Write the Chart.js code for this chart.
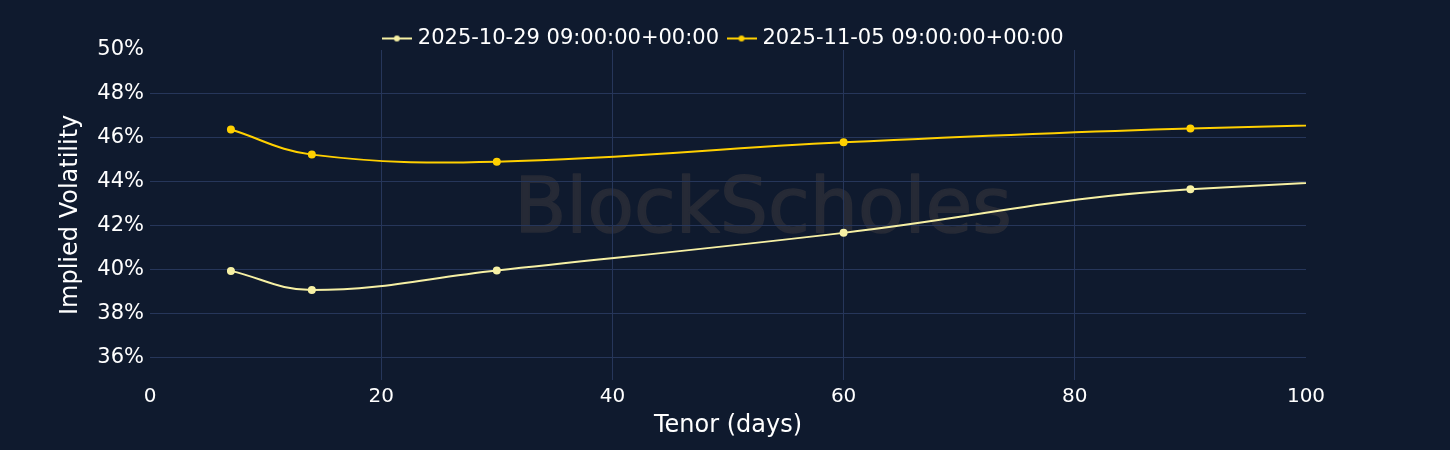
<!DOCTYPE html>
<html>
<head>
<meta charset="utf-8">
<script src="https://cdn.jsdelivr.net/npm/chart.js@4"></script>
<style>
  html, body { margin: 0; padding: 0; background: #0f1a2e; }
  #wrap { width: 1450px; height: 450px; }
</style>
</head>
<body>
<div id="wrap"><canvas id="grafico"></canvas></div>
<script>
// tenor em dias e vol implícita (%)
const tenores = [7, 14, 30, 60, 90, 180];
const serieA = [39.95, 39.08, 39.97, 41.68, 43.66, 45.4];
const serieB = [46.38, 45.24, 44.92, 45.8, 46.43, 47.6];
const nomeA = '2025-10-29 09:00:00+00:00';
const nomeB = '2025-11-05 09:00:00+00:00';
const ticksY = [36, 38, 40, 42, 44, 46, 48, 50];

const corA = '#f6f0a4';
const corB = '#ffd000';
const corGrade = '#26365a';
const fonte = 'DejaVu Sans';

function pontos(valores) {
    return tenores.map((t, i) => ({ x: t, y: valores[i] }));
}

// ícone da legenda: linha com ponto no meio
function iconeLegenda(cor) {
    const c = document.createElement('canvas');
    c.width = 30;
    c.height = 10;
    const g = c.getContext('2d');
    g.strokeStyle = cor;
    g.lineWidth = 2;
    g.beginPath();
    g.moveTo(0, 5);
    g.lineTo(30, 5);
    g.stroke();
    g.fillStyle = cor;
    g.beginPath();
    g.arc(15, 5, 3, 0, Math.PI * 2);
    g.fill();
    return c;
}

// marca d'água (desenhada antes da grade)
const marcaDagua = {
    id: 'marcaDagua',
    beforeDraw(chart) {
        const { ctx } = chart;
        ctx.save();
        ctx.font = '76px ' + fonte;
        ctx.fillStyle = '#262a36';
        ctx.strokeStyle = '#262a36';
        ctx.lineWidth = 1.5;
        ctx.lineJoin = 'round';
        ctx.textAlign = 'center';
        ctx.textBaseline = 'middle';
        ctx.fillText('BlockScholes', 763, 212);
        ctx.strokeText('BlockScholes', 763, 212);
        ctx.restore();
    }
};

new Chart(document.getElementById('grafico'), {
    type: 'line',
    data: {
        datasets: [
            {
                label: nomeA,
                data: pontos(serieA),
                borderColor: corA,
                backgroundColor: corA,
                borderWidth: 2,
                pointRadius: 3,
                pointHoverRadius: 3,
                pointStyle: 'circle',
                tension: 0.4,
                fill: false,
            },
            {
                label: nomeB,
                data: pontos(serieB),
                borderColor: corB,
                backgroundColor: corB,
                borderWidth: 2,
                pointRadius: 3,
                pointHoverRadius: 3,
                pointStyle: 'circle',
                tension: 0.4,
                fill: false,
            },
        ],
    },
    plugins: [marcaDagua],
    options: {
        responsive: true,
        maintainAspectRatio: false,
        animation: false,
        layout: { padding: { left: 0, right: 0, top: 16, bottom: 5 } },
        plugins: {
            legend: {
                display: true,
                maxHeight: 34,
                labels: {
                    color: '#ffffff',
                    font: { family: fonte, size: 21 },
                    usePointStyle: true,
                    padding: 12,
                    generateLabels: chart => chart.data.datasets.map((ds, i) => ({
                        text: ds.label,
                        fontColor: '#ffffff',
                        pointStyle: iconeLegenda(ds.borderColor),
                        datasetIndex: i,
                        hidden: false,
                        lineWidth: 0,
                    })),
                },
            },
            tooltip: { enabled: false },
        },
        scales: {
            x: {
                type: 'linear',
                min: 0,
                max: 100,
                ticks: {
                    stepSize: 20,
                    color: '#ffffff',
                    font: { family: fonte, size: 20 },
                    padding: 5,
                },
                grid: {
                    color: ctx => (ctx.tick && (ctx.tick.value === 0 || ctx.tick.value === 100)) ? 'rgba(0,0,0,0)' : corGrade,
                    drawTicks: false,
                },
                border: { display: false },
                title: {
                    display: true,
                    text: 'Tenor (days)',
                    color: '#ffffff',
                    font: { family: fonte, size: 24 },
                    padding: { top: -2.5, bottom: 5 },
                },
            },
            y: {
                min: 35,
                max: 50,
                afterBuildTicks: axis => { axis.ticks = ticksY.map(v => ({ value: v })); },
                afterFit: axis => { axis.width = 150; },
                ticks: {
                    color: '#ffffff',
                    font: { family: fonte, size: 21 },
                    padding: 6,
                    callback: v => v + '%',
                },
                grid: {
                    color: ctx => (ctx.tick && ctx.tick.value === 50) ? 'rgba(0,0,0,0)' : corGrade,
                    drawTicks: false,
                },
                border: { display: false },
                title: {
                    display: true,
                    text: 'Implied Volatility',
                    color: '#ffffff',
                    font: { family: fonte, size: 24 },
                    padding: { top: 56, bottom: 6 },
                },
            },
            // eixo vazio só para reservar a margem direita
            margemDireita: {
                type: 'linear',
                position: 'right',
                min: 0,
                max: 1,
                afterFit: axis => { axis.width = 144; },
                ticks: { display: false },
                grid: { display: false, drawTicks: false },
                border: { display: false },
            },
        },
    },
});
</script>
</body>
</html>
